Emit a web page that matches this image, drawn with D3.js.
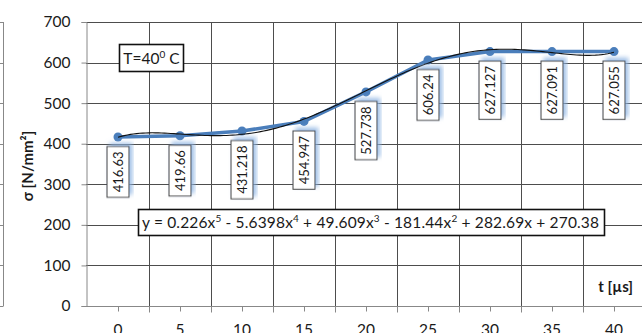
<!DOCTYPE html>
<html>
<head>
<meta charset="utf-8">
<script src="https://cdn.jsdelivr.net/npm/d3@7"></script>
<style>
  body { margin: 0; background: #fff; }
  svg { display: block; font-family: Lato, "Liberation Sans", sans-serif; }
</style>
</head>
<body>
<svg id="chart"></svg>
<script>
const width = 642;
const height = 333;

// data
const times = [0, 5, 10, 15, 20, 25, 30, 35, 40];
const stress = [416.63, 419.66, 431.218, 454.947, 527.738, 606.24, 627.127, 627.091, 627.055];
const yTicks = [0, 100, 200, 300, 400, 500, 600, 700];
// trendline coefficients shown in the chart (x = point index 1..9), highest power first
const trendCoef = [0.226, -5.6398, 49.609, -181.44, 282.69, 270.38];

const blue = '#4a7ebb';
const ink = '#1a1a1a';

const svg = d3.select('#chart')
  .attr('width', width)
  .attr('height', height);

const defs = svg.append('defs');
defs.append('filter')
    .attr('id', 'glow')
    .attr('x', '-50%').attr('y', '-20%')
    .attr('width', '200%').attr('height', '140%')
  .append('feDropShadow')
    .attr('dx', 3).attr('dy', 3)
    .attr('stdDeviation', 2)
    .attr('flood-color', '#8db3e2')
    .attr('flood-opacity', 0.8);

const x = d3.scaleBand().domain(times).range([87, 645]).paddingInner(0).paddingOuter(0);
const xc = (t) => x(t) + x.bandwidth() / 2;
const y = d3.scaleLinear().domain([0, 700]).range([306, 22]);

// bit of a neighbouring chart's axis on the far left
const leftAxis = svg.append('g').attr('transform', 'translate(3.5,0)');
leftAxis.append('line')
  .attr('y1', y(700)).attr('y2', y(0))
  .attr('stroke', '#888');
leftAxis.selectAll('line.t')
  .data(yTicks)
  .join('line')
    .attr('class', 't')
    .attr('x1', -4).attr('x2', 0)
    .attr('y1', (d) => Math.round(y(d)) + 0.5)
    .attr('y2', (d) => Math.round(y(d)) + 0.5)
    .attr('stroke', '#888');

// horizontal grid
svg.append('g')
  .selectAll('line')
  .data(yTicks.filter((d) => d > 0))
  .join('line')
    .attr('x1', 86).attr('x2', width)
    .attr('y1', (d) => Math.round(y(d)) + 0.5)
    .attr('y2', (d) => Math.round(y(d)) + 0.5)
    .attr('stroke', '#4d4d4d');

// vertical grid at category boundaries
svg.append('g')
  .selectAll('line')
  .data(times.slice(1))
  .join('line')
    .attr('x1', (d) => Math.round(x(d)) + 0.5)
    .attr('x2', (d) => Math.round(x(d)) + 0.5)
    .attr('y1', y(700)).attr('y2', y(0))
    .attr('stroke', '#4d4d4d');

// y axis
const yAxis = d3.axisLeft(y).tickValues(yTicks).tickSize(5).tickPadding(11);
svg.append('g')
    .attr('transform', 'translate(86.5,0)')
    .call(yAxis)
    .call((g) => g.select('.domain').attr('stroke', '#888'))
    .call((g) => g.selectAll('.tick line').attr('stroke', '#888'))
    .call((g) => g.selectAll('.tick text')
      .attr('font-family', 'Lato, "Liberation Sans", sans-serif')
      .attr('font-size', 15.5)
      .attr('fill', ink));

// x axis: minor ticks at category centres, major at boundaries
const xAxisG = svg.append('g').attr('transform', `translate(0,${Math.round(y(0)) + 0.5})`);
xAxisG.append('line').attr('x1', 86).attr('x2', width).attr('stroke', '#888');
xAxisG.selectAll('line.major')
  .data(times.slice(1))
  .join('line')
    .attr('class', 'major')
    .attr('x1', (d) => Math.round(x(d)) + 0.5)
    .attr('x2', (d) => Math.round(x(d)) + 0.5)
    .attr('y1', 0).attr('y2', 6)
    .attr('stroke', '#888');
xAxisG.selectAll('line.minor')
  .data(times)
  .join('line')
    .attr('class', 'minor')
    .attr('x1', (d) => Math.round(xc(d)) + 0.5)
    .attr('x2', (d) => Math.round(xc(d)) + 0.5)
    .attr('y1', 0).attr('y2', 5)
    .attr('stroke', '#888');
xAxisG.selectAll('text')
  .data(times)
  .join('text')
    .attr('x', (d) => xc(d))
    .attr('y', 28)
    .attr('text-anchor', 'middle')
    .attr('font-size', 15.5)
    .attr('fill', ink)
    .text((d) => d);

// axis titles
svg.append('text')
  .attr('transform', `translate(33,${(y(0) + y(700)) / 2 + 2}) rotate(-90)`)
  .attr('text-anchor', 'middle')
  .attr('font-size', 15)
  .attr('font-weight', 'bold')
  .attr('fill', ink)
  .text('σ [N/mm²]');

svg.append('text')
  .attr('x', 633)
  .attr('y', 292)
  .attr('text-anchor', 'end')
  .attr('font-size', 15)
  .attr('font-weight', 'bold')
  .attr('fill', ink)
  .text('t [µs]');

// series line + markers
const line = d3.line()
  .x((d, i) => xc(times[i]))
  .y((d) => y(d));

svg.append('path')
  .datum(stress)
  .attr('fill', 'none')
  .attr('stroke', blue)
  .attr('stroke-width', 3.5)
  .attr('stroke-linejoin', 'round')
  .attr('d', line);

svg.append('g')
  .selectAll('circle')
  .data(stress)
  .join('circle')
    .attr('cx', (d, i) => xc(times[i]))
    .attr('cy', (d) => y(d))
    .attr('r', 4.5)
    .attr('fill', blue);

// polynomial trendline (black)
const poly = (n) => trendCoef.reduce((acc, c) => acc * n + c, 0);
const nScale = d3.scaleLinear().domain([1, times.length]).range([xc(times[0]), xc(times[times.length - 1])]);
const trendPts = d3.range(1, times.length + 0.001, 0.05);
svg.append('path')
  .datum(trendPts)
  .attr('fill', 'none')
  .attr('stroke', '#111')
  .attr('stroke-width', 1.1)
  .attr('d', d3.line().x((n) => nScale(n)).y((n) => y(poly(n))));

// data labels, rotated boxes below points
const labelFont = 13;
const labels = svg.append('g')
  .selectAll('g')
  .data(stress)
  .join('g')
    .attr('transform', (d, i) => `translate(${xc(times[i])},${y(d) + 9.5}) rotate(-90)`);

labels.each(function (d) {
  const g = d3.select(this);
  const txt = g.append('text')
    .attr('font-size', labelFont)
    .attr('fill', ink)
    .attr('text-anchor', 'end')
    .attr('dy', '0.36em')
    .text(d);
  const w = txt.node().getComputedTextLength();
  g.insert('rect', 'text')
    .attr('x', -w - 10)
    .attr('y', -11)
    .attr('width', w + 10)
    .attr('height', 22)
    .attr('fill', '#fff')
    .attr('stroke', '#404040')
    .attr('stroke-width', 1)
    .attr('filter', 'url(#glow)');
  txt.attr('x', -5);
});

// temperature box
const tBox = svg.append('g');
tBox.append('rect')
  .attr('x', 119.5).attr('y', 44.5)
  .attr('width', 64).attr('height', 27)
  .attr('fill', '#fff')
  .attr('stroke', '#111')
  .attr('stroke-width', 1.6);
const tText = tBox.append('text')
  .attr('x', 151.5).attr('y', 63.5)
  .attr('text-anchor', 'middle')
  .attr('font-size', 15.5)
  .attr('fill', ink);
tText.append('tspan').text('T=40');
tText.append('tspan').attr('dy', -6).attr('font-size', 10).text('0');
tText.append('tspan').attr('dy', 6).text(' C');

// trendline equation box
const eqParts = [
  ['y = 0.226x', ''], ['5', 'sup'], [' - 5.6398x', ''], ['4', 'sup'], [' + 49.609x', ''], ['3', 'sup'],
  [' - 181.44x', ''], ['2', 'sup'], [' + 282.69x + 270.38', '']
];
const eq = svg.append('g');
eq.append('rect')
  .attr('x', 138.5).attr('y', 209.5)
  .attr('width', 466).attr('height', 26)
  .attr('fill', '#fff')
  .attr('stroke', '#111')
  .attr('stroke-width', 1.6);
const eqText = eq.append('text')
  .attr('x', 142)
  .attr('y', 228)
  .attr('font-size', 15.5)
  .attr('fill', ink)
  .attr('textLength', 457)
  .attr('lengthAdjust', 'spacing');
eqParts.forEach(([s, kind], i) => {
  const prev = i > 0 ? eqParts[i - 1][1] : '';
  const dy = kind === 'sup' ? -6 : (prev === 'sup' ? 6 : 0);
  eqText.append('tspan')
    .attr('dy', dy)
    .attr('font-size', kind === 'sup' ? 10 : null)
    .text(s);
});
</script>
</body>
</html>
